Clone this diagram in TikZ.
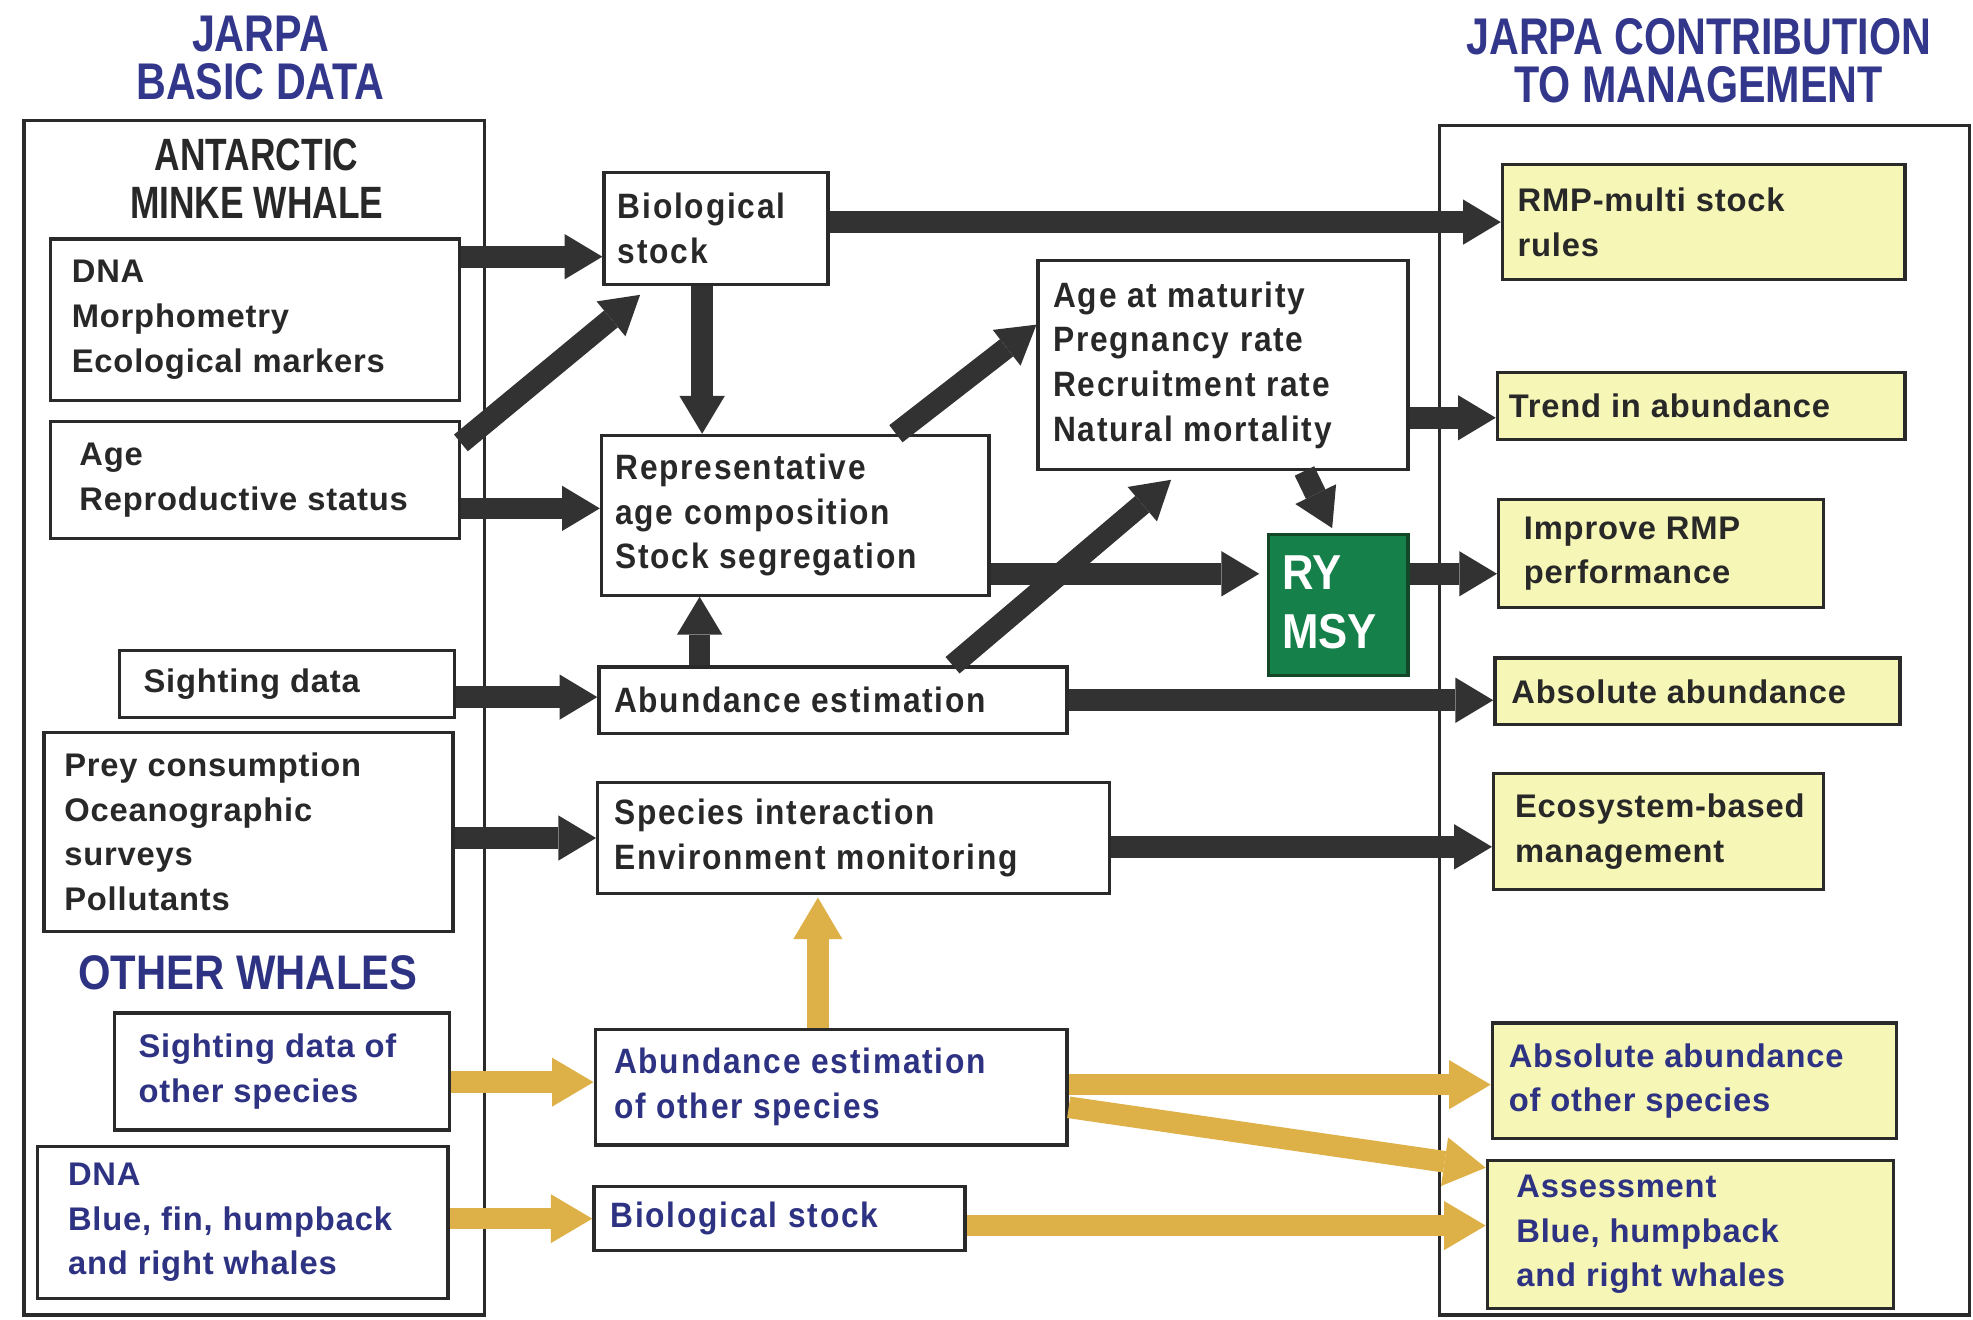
\documentclass[tikz,border=0pt]{standalone}
\usepackage{fontspec}
\setmainfont{Liberation Sans}
\newfontfamily\lfont{Liberation Sans}[LetterSpace=2.5]
\newfontfamily\mfont{Liberation Sans}[FakeStretch=0.9,LetterSpace=5]
\newfontfamily\tfont{Liberation Sans}[FakeStretch=0.8]
\newfontfamily\afont{Liberation Sans}[FakeStretch=0.78]
\newfontfamily\ofont{Liberation Sans}[FakeStretch=0.86]
\newfontfamily\rfont{Liberation Sans}[FakeStretch=0.89]
\usetikzlibrary{fit,calc,arrows.meta}
\definecolor{darktext}{RGB}{40,40,40}
\definecolor{linec}{RGB}{42,42,42}
\definecolor{bluetext}{RGB}{46,50,130}
\definecolor{titleblue}{RGB}{50,55,140}
\definecolor{yellowfill}{RGB}{246,246,182}
\definecolor{greenfill}{RGB}{22,128,74}
\definecolor{greenline}{RGB}{20,70,40}
\definecolor{goldc}{RGB}{222,176,72}
\definecolor{arrowdark}{RGB}{50,50,50}
\begin{document}
\begin{tikzpicture}[x=0.5pt,y=-0.5pt,
  frame/.style={draw=linec,line width=1.3pt,inner sep=0pt},
  box/.style={draw=linec,line width=1.3pt,fill=white,inner sep=0pt},
  ybox/.style={box,fill=yellowfill},
  gbox/.style={draw=greenline,line width=1.3pt,fill=greenfill,inner sep=0pt},
  ltxt/.style={anchor=west,align=left,inner sep=0pt,text=darktext,
    font={\lfont\bfseries\fontsize{13pt}{17.75pt}\selectfont}},
  lbtxt/.style={ltxt,text=bluetext},
  mtxt/.style={anchor=west,align=left,inner sep=0pt,text=darktext,
    font={\mfont\bfseries\fontsize{14pt}{17.75pt}\selectfont}},
  mbtxt/.style={mtxt,text=bluetext},
  ttl/.style={align=center,inner sep=0pt,text=titleblue,
    font={\tfont\bfseries\fontsize{20.5pt}{19pt}\selectfont}},
  darr/.style={draw=arrowdark,line width=8.6pt,
    -{Triangle[length=15pt,width=18pt,line width=0pt]}},
  garr/.style={draw=goldc,line width=8.6pt,
    -{Triangle[length=16.5pt,width=19.5pt,line width=0pt]}}]
\useasboundingbox (0,0) rectangle (1568,1049);

% titles
\node[ttl] (ttlL) at (207,46) {JARPA\\BASIC DATA};
\node[ttl] (ttlR) at (1350,48) {JARPA CONTRIBUTION\\TO MANAGEMENT};

% frames
\node[frame,fit={(19,96)(385,1045)}] (lframe) {};
\node[frame,fit={(1144,100)(1565,1045)}] (rframe) {};

\node[align=center,inner sep=0pt,text=darktext,
  font={\afont\bfseries\fontsize{18pt}{19pt}\selectfont}] (minke) at (204,142) {ANTARCTIC\\MINKE WHALE};
\node[inner sep=0pt,text=bluetext,
  font={\ofont\bfseries\fontsize{19.3pt}{20pt}\selectfont}] (other) at (197,773) {OTHER WHALES};

% left boxes
\node[box,fit={(40,190)(365,318)}] (dna) {};
\node[ltxt] (dnaT) at ([xshift=9pt]dna.west) {DNA\\Morphometry\\Ecological markers};
\node[box,fit={(40,335)(365,428)}] (age) {};
\node[ltxt] (ageT) at ([xshift=12pt]age.west) {Age\\Reproductive status};
\node[box,fit={(95,517)(361,570)}] (sight) {};
\node[ltxt] (sightT) at ([xshift=10pt]sight.west) {Sighting data};
\node[box,fit={(35,582)(360,740)}] (prey) {};
\node[ltxt] (preyT) at ([xshift=8.5pt]prey.west) {Prey consumption\\Oceanographic\\surveys\\Pollutants};
\node[box,fit={(91,805)(357,898)}] (sighto) {};
\node[lbtxt] (sightoT) at ([xshift=10pt]sighto.west) {Sighting data of\\other species};
\node[box,fit={(30,911)(356,1032)}] (dnab) {};
\node[lbtxt] (dnabT) at ([xshift=12.5pt]dnab.west) {DNA\\Blue, fin, humpback\\and right whales};

% middle boxes
\node[box,fit={(480,137)(658,226)}] (bio) {};
\node[mtxt] (bioT) at ([xshift=6pt]bio.west) {Biological\\stock};
\node[box,fit={(478,346)(786,473)}] (rep) {};
\node[mtxt] (repT) at ([xshift=6pt]rep.west) {Representative\\age composition\\Stock segregation};
\node[box,fit={(825,207)(1119,373)}] (mat) {};
\node[mtxt] (matT) at ([xshift=6.5pt]mat.west) {Age at maturity\\Pregnancy rate\\Recruitment rate\\Natural mortality};
\node[gbox,fit={(1008,425)(1119,537)}] (ry) {};
\node[anchor=west,align=left,inner sep=0pt,text=white,
  font={\rfont\bfseries\fontsize{19.5pt}{23.4pt}\selectfont}] (ryT) at ([xshift=6pt,yshift=1pt]ry.west) {RY\\MSY};
\node[box,fit={(476,530)(848,583)}] (abund) {};
\node[mtxt] (abundT) at ([xshift=6.5pt]abund.west) {Abundance estimation};
\node[box,fit={(475,622)(882,710)}] (spec) {};
\node[mtxt] (specT) at ([xshift=7pt]spec.west) {Species interaction\\Environment monitoring};
\node[box,fit={(473,818)(848,910)}] (abundo) {};
\node[mbtxt] (abundoT) at ([xshift=8pt]abundo.west) {Abundance estimation\\of other species};
\node[box,fit={(472,943)(767,994)}] (biob) {};
\node[mbtxt] (biobT) at ([xshift=7pt]biob.west) {Biological stock};

% right boxes
\node[ybox,fit={(1194,131)(1514,222)}] (rmp) {};
\node[ltxt] (rmpT) at ([xshift=6.5pt]rmp.west) {RMP-multi stock\\rules};
\node[ybox,fit={(1190,296)(1514,349)}] (trend) {};
\node[ltxt] (trendT) at ([xshift=5pt]trend.west) {Trend in abundance};
\node[ybox,fit={(1191,397)(1449,483)}] (impr) {};
\node[ltxt] (imprT) at ([xshift=10.5pt]impr.west) {Improve RMP\\performance};
\node[ybox,fit={(1188,523)(1510,576)}] (abs) {};
\node[ltxt] (absT) at ([xshift=7pt]abs.west) {Absolute abundance};
\node[ybox,fit={(1187,615)(1449,707)}] (eco) {};
\node[ltxt] (ecoT) at ([xshift=9pt]eco.west) {Ecosystem-based\\management};
\node[ybox,fit={(1186,813)(1507,905)}] (abso) {};
\node[lbtxt] (absoT) at ([xshift=7pt]abso.west) {Absolute abundance\\of other species};
\node[ybox,fit={(1182,922)(1505,1040)}] (assess) {};
\node[lbtxt] (assessT) at ([xshift=12pt]assess.west) {Assessment\\Blue, humpback\\and right whales};

% dark arrows
\draw[darr] (dna.east |- 0,204) -- (bio.west |- 0,204);
\draw[darr] (age.east |- 0,352) -- ($(bio.south west)+(30,7)$);
\draw[darr] (age.east |- 0,404) -- (rep.west |- 0,404);
\draw[darr] (bio.south -| 558,0) -- (rep.north -| 558,0);
\draw[darr] (bio.east |- rmp.west) -- (rmp.west);
\draw[darr] (rep.north -| 712,0) -- (mat.west |- 0,258);
\draw[darr] (rep.east |- 0,456) -- ([xshift=-3pt]ry.west |- 0,456);
\draw[darr] (abund.north -| 556,0) -- (rep.south -| 556,0);
\draw[darr] (abund.north -| 757,0) -- ($(mat.south west)+(107,7)$);
\draw[darr] ($(mat.south west)+(213,0)$) -- ($(ry.north west)+(52,-4)$);
\draw[darr] (mat.east |- 0,332) -- (trend.west |- 0,332);
\draw[darr] (ry.east |- 0,456) -- (impr.west |- 0,456);
\draw[darr] (sight.east |- 0,554) -- (abund.west |- 0,554);
\draw[darr] (abund.east) -- (abs.west |- abund.east);
\draw[darr] (prey.east |- spec.west) -- (spec.west);
\draw[darr] (spec.east |- 0,673) -- (eco.west |- 0,673);

% gold arrows
\draw[garr] (sighto.east |- 0,860) -- (abundo.west |- 0,860);
\draw[garr] (dnab.east |- biob.west) -- (biob.west);
\draw[garr] (abundo.north -| 650,0) -- ([yshift=-1pt]spec.south -| 650,0);
\draw[garr] (abundo.east |- 0,862) -- (abso.west |- 0,862);
\draw[garr] (abundo.east |- 0,880) -- (assess.west |- 0,928);
\draw[garr] (biob.east |- 0,974) -- (assess.west |- 0,974);
\end{tikzpicture}
\end{document}
